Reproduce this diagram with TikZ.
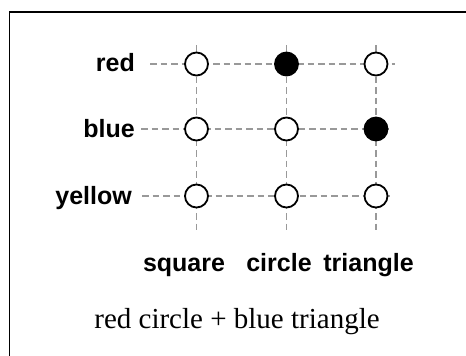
\documentclass[tikz,border=0pt]{standalone}
\usepackage{fontspec}
\setmainfont{Liberation Serif}
\setsansfont{Liberation Sans}
\begin{document}
\begin{tikzpicture}[x=1pt,y=-1pt,
  gridline/.style={draw=black!40,line width=1.3pt,dash pattern=on 6.5pt off 4pt},
  dot/.style={circle,draw=black,line width=1.8pt,fill=white,minimum size=23pt,inner sep=0pt},
  hot/.style={dot,fill=black},
  rowlabel/.style={anchor=base east,font=\sffamily\bfseries\fontsize{25}{25}\selectfont,inner sep=0pt},
  collabel/.style={anchor=base,font=\sffamily\bfseries\fontsize{25}{25}\selectfont,inner sep=0pt},
  caption/.style={anchor=base,font=\rmfamily\fontsize{29}{29}\selectfont,inner sep=0pt}]
\useasboundingbox (0,0) rectangle (466,356);
\clip (0,0) rectangle (466,356);
% outer frame, running off the right and bottom edges
\draw[line width=1.8pt] (9.5,400) -- (9.5,11.7) -- (520,11.7);

% grid end points
\coordinate (vs1) at (196.5,45);  \coordinate (ve1) at (196.5,230);
\coordinate (vs2) at (286.5,45);  \coordinate (ve2) at (286.5,230);
\coordinate (vs3) at (376,45);    \coordinate (ve3) at (376,230);
\coordinate (hs1) at (150,64);    \coordinate (he1) at (395,64);
\coordinate (hs2) at (141,129);   \coordinate (he2) at (390,129);
\coordinate (hs3) at (142,196);   \coordinate (he3) at (390,196);

\foreach \i in {1,2,3} {
  \draw[gridline] (vs\i) -- (ve\i);
  \draw[gridline] (hs\i) -- (he\i);
}

% row labels
\node[rowlabel] (lred)    at (135,71)  {red};
\node[rowlabel] (lblue)   at (135,137) {blue};
\node[rowlabel] (lyellow) at (132,204) {yellow};

% column labels
\node[collabel] (lsquare)   at (184,271) {square};
\node[collabel] (lcircle)   at (279,271) {circle};
\node[collabel] (ltriangle) at (368.5,271) {triangle};

% grid points
\node[dot] (r1) at (196.5,64) {};
\node[hot] (r2) at (286.5,64) {};
\node[dot] (r3) at (376,64)   {};
\node[dot] (b1) at (196.5,129) {};
\node[dot] (b2) at (286.5,129) {};
\node[hot] (b3) at (376,129)   {};
\node[dot] (y1) at (196.5,196) {};
\node[dot] (y2) at (286.5,196) {};
\node[dot] (y3) at (376,196)   {};

% caption
\node[caption] (cap) at (237,328) {red circle + blue triangle};
\end{tikzpicture}
\end{document}
